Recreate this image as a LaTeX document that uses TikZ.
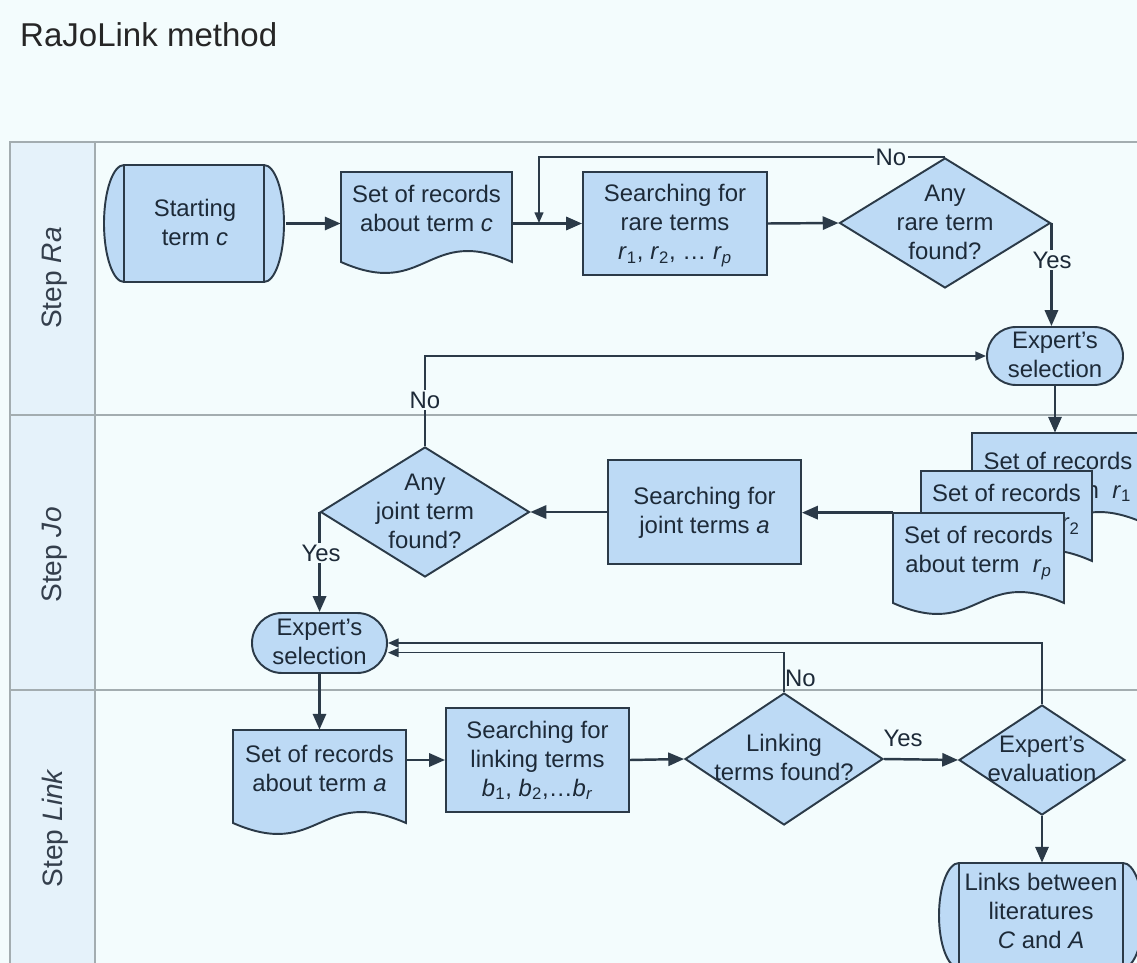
\documentclass[tikz,border=0pt]{standalone}
\usepackage{fontspec}
\setmainfont{Liberation Sans}
\usetikzlibrary{arrows.meta,shapes.geometric,fit,calc}

\definecolor{paper}{HTML}{F3FCFD}
\definecolor{lanecol}{HTML}{E5F2FA}
\definecolor{laneline}{HTML}{A3ADB0}
\definecolor{boxfill}{HTML}{BDDAF5}
\definecolor{boxline}{HTML}{2B3A48}
\definecolor{ink}{HTML}{1D2A38}

% document symbol with a wavy base: left, top, right, base
\newcommand\docshape[4]{%
  \path[shapeline] (#1,#4) -- (#1,#2) -- (#3,#2) -- (#3,#4)
    .. controls ({(#1+#3)/2},{#4-38}) and ({(#1+#3)/2},{#4+38}) .. (#1,#4) -- cycle;}

% stored-data style capsule with two inner rules: inner left, top, inner right, bottom
\newcommand\capsule[4]{%
  \path[shapeline] (#1,#2) -- (#3,#2)
    .. controls ({#3+11},#2) and ({#3+20},{(#2+#4)/2-(#4-#2)*0.276}) .. ({#3+20},{(#2+#4)/2})
    .. controls ({#3+20},{(#2+#4)/2+(#4-#2)*0.276}) and ({#3+11},#4) .. (#3,#4)
    -- (#1,#4)
    .. controls ({#1-11},#4) and ({#1-20},{(#2+#4)/2+(#4-#2)*0.276}) .. ({#1-20},{(#2+#4)/2})
    .. controls ({#1-20},{(#2+#4)/2-(#4-#2)*0.276}) and ({#1-11},#2) .. (#1,#2) -- cycle;
  \draw[draw=boxline, line width=1.1pt] (#1,#2) -- (#1,#4) (#3,#2) -- (#3,#4);}

% centred text that does not enlarge the shape around it
\newcommand\slimtext[1]{\makebox[0pt]{\smash{\raisebox{-4.4pt}{\begin{tabular}{@{}c@{}}#1\end{tabular}}}}}

\begin{document}
\begin{tikzpicture}[
  x=0.02cm, y=-0.02cm,
  every node/.style={font=\fontsize{13.6}{16.5}\selectfont, text=ink},
  shapeline/.style={draw=boxline, line width=1.1pt, fill=boxfill},
  procbox/.style={shapeline, inner sep=0pt},
  textonly/.style={inner sep=0pt},
  decision/.style={shapeline, diamond, inner sep=0pt},
  flow/.style={draw=boxline, line width=1.4pt, -{Triangle[length=9pt,width=7.5pt]}},
  loopline/.style={draw=boxline, line width=0.9pt},
  looparrow/.style={loopline, -{Triangle[length=6pt,width=5pt]}},
  tag/.style={fill=paper, inner sep=1pt},
  lane/.style={draw=laneline, line width=0.9pt},
  lanetitle/.style={rotate=90, font=\fontsize{16}{19}\selectfont, text=ink!90},
]
\useasboundingbox (0,0) rectangle (1137,963);
\clip (0,0) rectangle (1137,963);

% page and swimlanes
\fill[paper] (0,0) rectangle (1137,963);
\fill[lanecol] (10,142) rectangle (95,963);
\draw[lane] (1137,142) -- (10,142) -- (10,963);
\draw[lane] (95,142) -- (95,963);
\draw[lane] (10,415) -- (1137,415);
\draw[lane] (10,690) -- (1137,690);

\node[anchor=base west, font=\fontsize{18.8}{22}\selectfont, text=black!85] (title) at (14,47) {RaJoLink method};
\node[lanetitle] (laneRa) at (55,278) {Step \textit{Ra}};
\node[lanetitle] (laneJo) at (55,555) {Step \textit{Jo}};
\node[lanetitle] (laneLink) at (55,828) {Step \textit{Link}};

% ---- Step Ra
\capsule{124}{165}{264}{282}
\node[textonly, fit={(104,165) (286,282)}] (start) {\slimtext{Starting\\term \textit{c}}};

\docshape{341}{172}{512}{262}
\node[textonly, fit={(341,172) (512,248)}] (docc) {\slimtext{Set of records\\about term \textit{c}}};

\node[procbox, fit={(583,172) (767,275)}] (srare)
  {\slimtext{Searching for\\rare terms\\\textit{r}\textsubscript{1}, \textit{r}\textsubscript{2}, … \textit{r}\textsubscript{\textit{p}}}};

\node[decision, minimum width=4.22cm, minimum height=2.6cm] (d1) at (945,223)
  {\slimtext{Any\\rare term\\found?}};

\node[procbox, rounded corners=0.58cm, fit={(987,327) (1123,385)}] (es1) {\slimtext{Expert's\\selection}};

\coordinate (loopc) at (539,223);

% ---- Step Jo
\node[procbox, fit={(608,460) (801,564)}] (sjoint) {\slimtext{Searching for\\joint terms \textit{a}}};

\node[decision, minimum width=4.18cm, minimum height=2.6cm] (d2) at (425,512)
  {\slimtext{Any\\joint term\\found?}};

\node[procbox, rounded corners=0.6cm, fit={(252,613) (387,673)}] (es2) {\slimtext{Expert’s\\selection}};

% ---- Step Link
\docshape{233}{730}{406}{823}
\node[textonly, fit={(233,730) (406,809)}] (doca) {\slimtext{Set of records\\about term \textit{a}}};

\node[procbox, fit={(446,708) (629,812)}] (slink)
  {\slimtext{Searching for\\linking terms\\\textit{b}\textsubscript{1}, \textit{b}\textsubscript{2},…\textit{b}\textsubscript{\textit{r}}}};

\node[decision, minimum width=3.96cm, minimum height=2.64cm] (d3) at (784,759)
  {\slimtext{Linking\\terms found?}};

\node[decision, minimum width=3.32cm, minimum height=2.2cm] (d4) at (1042,760)
  {\slimtext{Expert's\\evaluation}};

\capsule{959}{863}{1123}{968}
\node[textonly, fit={(939,863) (1143,962)}] (links) {\slimtext{Links between\\literatures\\\textit{C} and \textit{A}}};

% ---- connectors
\draw[flow] (start.east) -- (start.east -| docc.west);
\draw[flow] (docc.east |- srare.west) -- (srare.west);
\draw[flow] (srare.east) -- (d1.west);
\draw[looparrow] (d1.north) -| (loopc);
\node[tag] (no1) at (891,157) {No};
\draw[flow] (d1.east) -- (d1.east |- es1.north);
\node[tag] (yes1) at (1052,260) {Yes};

% stacked record sets
\docshape{972}{433}{1144}{523}
\node[textonly, fit={(972,433) (1144,520)}] (r1) {\slimtext{Set of records\\about term \ \textit{r}\textsubscript{1}}};
\docshape{921}{471}{1092}{561}
\node[textonly, fit={(921,471) (1092,547)}] (r2) {\slimtext{Set of records\\about term \ \textit{r}\textsubscript{2}}};
\docshape{893}{513}{1064}{603}
\node[textonly, fit={(893,513) (1064,589)}] (rp) {\slimtext{Set of records\\about term \ \textit{r}\textsubscript{\textit{p}}}};

\draw[flow] (es1.south) -- (es1.south |- r1.north);
\draw[flow] (rp.north west) -- (rp.north west -| sjoint.east);
\draw[flow] (sjoint.west) -- (d2.east);
\draw[looparrow] (d2.north) |- (es1.west);
\node[tag] (no2) at (425,400) {No};
\draw[flow] (d2.west) -- (d2.west |- es2.north);
\node[tag] (yes2) at (321,553) {Yes};

\draw[flow] (es2.south) -- (es2.south |- doca.north);
\draw[flow] (doca.east |- slink.west) -- (slink.west);
\draw[flow] (slink.east) -- (d3.west);
\draw[flow] (d3.east) -- (d4.west);
\node (yes3) at (903,738) {Yes};
\draw[flow] (d4.south) -- (d4.south |- links.north);
\draw[looparrow] (d4.north) |- (es2.east);
\node[tag, anchor=west] (no3) at (783,678) {No};
\draw[looparrow] (d3.north) |- (es2.-8.4);
\end{tikzpicture}
\end{document}
